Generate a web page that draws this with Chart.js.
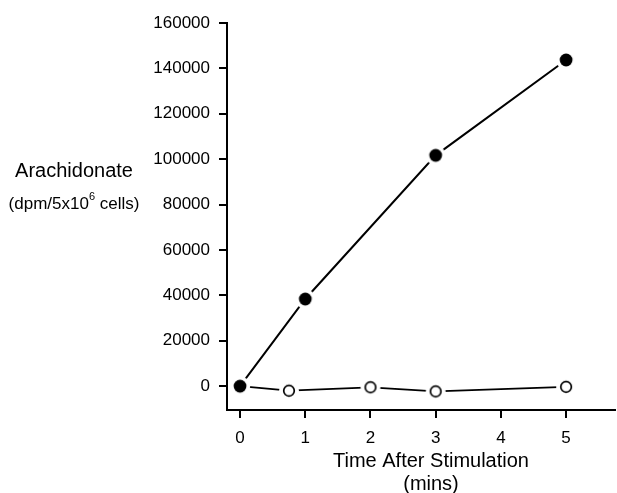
<!DOCTYPE html>
<html>
<head>
<meta charset="utf-8">
<script src="https://cdn.jsdelivr.net/npm/chart.js@4"></script>
<style>
  html, body { margin: 0; padding: 0; background: #fff; }
  #wrap { width: 617px; height: 493px; }
</style>
</head>
<body>
<div id="wrap"><canvas id="my-chart" width="617" height="493"></canvas></div>
<script>
// data
const timeStim = [0, 1, 3, 5];
const arachStim = [0, 38400, 101700, 143700];
const timeCtrl = [0, 0.75, 2, 3, 5];
const arachCtrl = [0, -2000, -500, -2300, -300];
const xTicks = [0, 1, 2, 3, 4, 5];
const yTicks = [0, 20000, 40000, 60000, 80000, 100000, 120000, 140000, 160000];

const FONT = '"Liberation Sans", Arial, Helvetica, sans-serif';
Chart.defaults.font.family = FONT;
Chart.defaults.color = '#000';

// marker with white halo so the line stops short of it
function marker(filled){
  const c = document.createElement('canvas');
  c.width = 22; c.height = 22;
  const g = c.getContext('2d');
  g.fillStyle = '#fff';
  g.beginPath(); g.arc(11, 11, 10, 0, Math.PI*2); g.fill();
  g.beginPath();
  if (filled) {
    g.arc(11, 11, 6.4, 0, Math.PI*2);
    g.fillStyle = '#000'; g.fill();
  } else {
    g.arc(11, 11, 5.3, 0, Math.PI*2);
    g.fillStyle = '#fff'; g.fill();
    g.lineWidth = 1.7; g.strokeStyle = '#000'; g.stroke();
  }
  return c;
}

const titles = {
  id: 'titles',
  afterDraw(chart){
    const {ctx, chartArea} = chart;
    ctx.save();
    ctx.fillStyle = '#000';
    ctx.textAlign = 'center';
    ctx.textBaseline = 'middle';
    const cx = chartArea.left - 153;
    ctx.font = '20px ' + FONT;
    ctx.fillText('Arachidonate', cx, chartArea.top + 148);
    // (dpm/5x10^6 cells) with a raised 6
    const y2 = chartArea.top + 181;
    ctx.font = '17px ' + FONT;
    const a = '(dpm/5x10', b = ' cells)';
    ctx.save(); ctx.font = '11px ' + FONT; const wSup = ctx.measureText('6').width; ctx.restore();
    const wa = ctx.measureText(a).width, wb = ctx.measureText(b).width;
    let x0 = cx - (wa + wSup + wb) / 2;
    ctx.textAlign = 'left';
    ctx.fillText(a, x0, y2);
    ctx.font = '11px ' + FONT;
    ctx.fillText('6', x0 + wa, y2 - 7);
    ctx.font = '17px ' + FONT;
    ctx.fillText(b, x0 + wa + wSup, y2);
    ctx.textAlign = 'center';
    ctx.font = '20px ' + FONT;
    const tx = chartArea.left + 204;
    ctx.fillText('Time After Stimulation', tx, chartArea.bottom + 51);
    ctx.fillText('(mins)', tx, chartArea.bottom + 74);
    ctx.restore();
  }
};

new Chart(document.getElementById('my-chart').getContext('2d'), {
  type: 'line',
  data: {
    datasets: [
      {
        label: 'stimulated',
        data: timeStim.map((t, i) => ({x: t, y: arachStim[i]})),
        borderColor: '#000',
        borderWidth: 2,
        pointStyle: marker(true),
        pointRadius: 7,
        order: 1
      },
      {
        label: 'control',
        data: timeCtrl.map((t, i) => ({x: t, y: arachCtrl[i]})),
        borderColor: '#000',
        borderWidth: 1.8,
        pointStyle: marker(false),
        pointRadius: 6,
        order: 2
      }
    ]
  },
  options: {
    responsive: false,
    animation: false,
    layout: { autoPadding: false, padding: { top: 23, right: 2, left: 0, bottom: 0 } },
    plugins: { legend: { display: false }, tooltip: { enabled: false } },
    scales: {
      x: {
        type: 'linear',
        min: -0.2,
        max: 5.75,
        afterBuildTicks: s => { s.ticks = xTicks.map(v => ({value: v})); },
        afterFit: s => { s.height = 83; s.paddingLeft = 0; s.paddingRight = 0; },
        grid: { drawOnChartArea: false, drawTicks: true, tickLength: 8, color: '#000', lineWidth: 2 },
        border: { display: true, color: '#000', width: 2 },
        ticks: { font: { size: 17 }, padding: 10, maxRotation: 0 }
      },
      y: {
        type: 'linear',
        min: -10500,
        max: 160000,
        afterBuildTicks: s => { s.ticks = yTicks.map(v => ({value: v})); },
        afterFit: s => { s.width = 227; },
        grid: { drawOnChartArea: false, drawTicks: true, tickLength: 8, color: '#000', lineWidth: 2 },
        border: { display: true, color: '#000', width: 2 },
        ticks: { font: { size: 17 }, padding: 9, callback: v => String(v) }
      }
    }
  },
  plugins: [titles]
});
</script>
</body>
</html>
